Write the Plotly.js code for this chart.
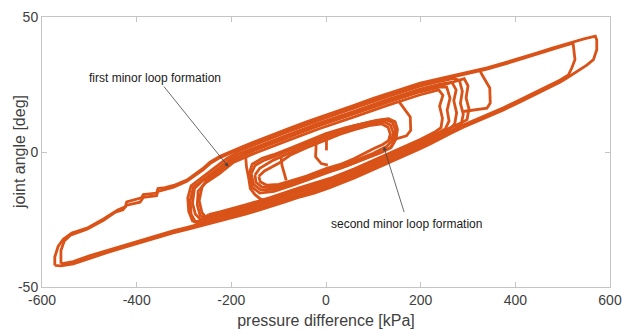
<!DOCTYPE html>
<html>
<head>
<meta charset="utf-8">
<script src="https://cdn.plot.ly/plotly-3.0.1.min.js"></script>
<style>html,body{margin:0;padding:0;background:#fff;}#chart{width:622px;height:334px;}</style>
</head>
<body>
<div id="chart"></div>
<script>
// ---- data: pressure difference [kPa] (x) vs joint angle [deg] (y) ----
// big loop, cycle 1
var bigX1 = [-573,-560,-534,-500,-463,-430,-393,-360,-323,-295,
  -273,-250,-224,-200,-170,-145,-118,-90,-60,-25,
  8,35,60,85,110,135,156,180,199,220,
  241,265,290,315,340,375,410,445,480,495,
  508,530,551,565,572,572,569,
  545,522,500,480,445,410,375,340,315,290,
  265,241,220,199,165,128,100,58,30,-13,
  -41,-83,-111,-154,-182,-224,-245,-260,-294,-322,
  -340,-355,-358,-386,-390,-421,-424,-440,-470,-505,
  -537,-555,-566,-573,-573];
var bigY1 = [-42,-42.2,-41.4,-39.3,-37.3,-35.5,-33.5,-31.8,-30,-28.8,
  -27.8,-26.7,-25.6,-24.4,-23,-21.7,-20.3,-18.7,-16.9,-15.2,
  -13.2,-11.4,-9.6,-7.7,-5.8,-3.8,-2.1,-0.3,1.2,3,
  5,7,9.2,11,12.8,15.6,18.5,21.5,24.5,25.9,
  27.3,29.7,32.2,34.2,37.9,41.5,42.9,
  41.9,40.8,39.7,38.6,36.6,34.7,32.9,31.2,30.2,29.2,
  28.2,27.3,26.4,25.5,23.6,21.5,19.9,17.2,15.5,13,
  11.2,8.4,6.6,3.6,1.6,-1.6,-3.8,-6.1,-10.4,-12.4,
  -13.2,-13.5,-15.2,-15.8,-17,-18.5,-20.3,-21.5,-24.8,-28.2,
  -30,-32.3,-35,-38.9,-42];
// big loop, cycle 2 (turns back at about 522 kPa)
var bigX2 = [-560,-534,-500,-463,-430,-393,-360,-323,-295,-273,
  -250,-224,-200,-170,-145,-118,-90,-60,-25,8,
  35,60,85,110,135,156,180,199,220,241,
  265,290,315,340,375,410,445,480,495,512,
  519,526,522,500,480,445,410,375,340,315,
  290,265,241,220,199,165,128,100,58,30,
  -13,-41,-83,-111,-154,-182,-224,-245,-260,-294,
  -322,-355,-358,-386,-393,-421,-429,-445,-470,-505,
  -540,-553,-560,-560];
var bigY2 = [-41.4,-40.6,-38.5,-36.5,-34.7,-32.7,-31,-29.2,-28,-27,
  -25.9,-24.8,-23.6,-22.2,-20.9,-19.5,-17.9,-16.1,-14.4,-12.4,
  -10.6,-8.8,-6.9,-5,-3,-1.3,0.5,2,3.8,5.8,
  7.8,10,11.8,13.6,16.4,19.3,22.3,25.3,26.7,28.5,
  31,34.2,40.3,39.2,38.1,36.1,34.2,32.4,30.7,29.7,
  28.7,27.7,26.8,25.9,25,23.1,21,19.4,16.7,15,
  12.5,10.7,7.9,6.1,3.1,1.1,-2.1,-4.3,-6.6,-10.8,
  -13,-14.6,-16.2,-16.8,-18.6,-19.7,-21.4,-22.3,-25.3,-28.6,
  -30.8,-33,-36.5,-41.4];
// first-minor-loop cycles (medium loops)
var midX1 = [-268,-224,-170,-118,-60,8,60,110,156,199,
  241,270,286,290,284,288,282,270,241,199,
  128,58,-13,-83,-154,-182,-210,-240,-268,-285,
  -292,-290,-282,-268];
var midY1 = [-26.6,-24.6,-22,-19.3,-15.9,-12.2,-8.6,-4.8,-1.1,2.2,
  6,8.4,10.5,14,18,22.5,26.5,27.3,26.2,24.4,
  20.4,16.1,11.9,7.3,2.5,0.5,-2.5,-6.5,-10.2,-12.5,
  -17,-22,-25.5,-26.6];
var midX2 = [-255,-224,-170,-118,-60,8,60,110,156,199,
  235,252,260,256,262,255,241,199,128,58,
  -13,-83,-154,-200,-230,-262,-278,-282,-276,-265,
  -255];
var midY2 = [-24.3,-23,-20.4,-17.7,-14.3,-10.6,-7,-3.2,0.5,3.8,
  6.9,8.5,11.5,15.5,20,24,24.1,22.3,18.3,14,
  9.8,5.2,0.4,-3.2,-7.3,-10.8,-13.5,-19,-23,-25,
  -24.3];
var midX3 = [-248,-224,-170,-118,-60,8,60,110,156,199,
  232,243,246,240,247,238,199,128,58,-13,
  -83,-154,-195,-225,-255,-270,-272,-266,-256,-248];
var midY3 = [-23.2,-22.2,-19.6,-16.9,-13.5,-9.8,-6.2,-2.4,1.3,4.6,
  7.6,9,12.5,17,21,23,21.2,17.2,12.9,8.7,
  4.1,-0.7,-3.8,-8,-11.5,-14.5,-19.5,-23.5,-24.5,-23.2];
var midX4 = [-262,-224,-170,-118,-60,8,60,110,156,199,
  241,262,272,276,270,275,266,241,199,128,
  58,-13,-83,-154,-182,-205,-235,-262,-280,-287,
  -285,-276,-262];
var midY4 = [-25.4,-23.8,-21.2,-18.5,-15.1,-11.4,-7.8,-4,-0.3,3,
  6.8,8.5,10.5,14.5,19,23,25.8,25.1,23.3,19.3,
  15,10.8,6.2,1.4,-0.6,-3,-7,-10.5,-13,-18,
  -23,-25.8,-25.4];
var midX5 = [-245,-200,-150,-100,-40,20,80,130,180,220,
  260,285,298,302,296,300,292,241,180,100,
  30,-40,-110,-170,-200,-228,-250,-262,-268,-262,
  -252,-245];
var midY5 = [-24.3,-22.2,-19.6,-17,-13.2,-9.3,-5.5,-1.9,1.9,5.2,
  8.8,10.7,12,16,20,24.5,27.2,24.5,21.6,17.1,
  12.7,8.4,3.8,-0.6,-3.4,-7.6,-10,-13,-18,-22.5,
  -24.5,-24.3];
// second-minor-loop cycles (small loops)
var smallX1 = [-158,-150,-130,-111,-76,-41,0,30,60,100,
  125,140,147,145,136,114,100,60,30,0,
  -41,-76,-111,-138,-153,-158];
var smallY1 = [-8,-5,-3,-1.8,0.8,3.4,6.4,8.2,9.8,11.4,
  12,11,8,4.5,1.5,-0.4,-1.4,-4.2,-6.1,-7.6,
  -10.3,-12.2,-13.8,-14,-12,-8];
var smallX2 = [-150,-140,-111,-76,-41,0,30,60,100,122,
  136,142,139,128,100,60,30,0,-41,-76,
  -111,-135,-148,-150];
var smallY2 = [-8.5,-6,-3,-0.2,2.5,5.5,7.4,9.1,10.7,11.2,
  10,7.2,4.2,2,-0.5,-3.4,-5.4,-6.9,-9.6,-11.5,
  -13,-13,-11.2,-8.5];
var smallX3 = [-142,-130,-100,-76,-41,0,30,60,95,118,
  131,136,132,120,100,60,30,0,-41,-76,
  -100,-125,-139,-142];
var smallY3 = [-9,-7,-4.2,-1.2,1.6,4.6,6.6,8.3,9.9,10.4,
  9.2,6.6,4.2,2.8,1.2,-2.4,-4.6,-6.1,-8.9,-10.8,
  -12,-12.3,-11,-9];
var smallX4 = [-162,-156,-135,-111,-76,-40,0,40,80,110,
  132,146,151,148,138,118,90,50,10,-30,
  -70,-110,-140,-156,-162];
var smallY4 = [-8,-4.5,-2.3,-1,1.4,4,6.8,8.9,10.6,11.8,
  12.3,11.2,8.4,4.8,1.8,0,-1.8,-4.7,-7.2,-9.8,
  -12.3,-14.6,-15.2,-13,-8];
// transition paths between branches
var tX1 = [-170,-168,-163,-160,-150,-140,-125];
var tY1 = [-1.2,-5.5,-10,-13.5,-15.8,-17.2,-18.3];
var tX2 = [-95,-93,-88,-84];
var tY2 = [-1.5,-5,-8,-10.5];
var tX3 = [-22,-21,-22,-10,4];
var tY3 = [4.5,1.9,-1.8,-4.3,-4.9];
var tX4 = [1,1];
var tY4 = [4.5,0.6];
var tX5 = [155,165,178,179,170,150,135];
var tY5 = [18.5,16,13,8,6,5,5];
var tX6 = [325,330,346,347,340,310,290];
var tY6 = [30.2,28.5,23.7,18.1,16.2,15.6,15];
var xTicks = [-600,-400,-200,0,200,400,600];
var yTicks = [-50,0,50];
var xTitle = 'pressure difference [kPa]';
var yTitle = 'joint angle [deg]';
var notes = ['first minor loop formation','second minor loop formation'];

var series = [[bigX1,bigY1],[bigX2,bigY2],[midX1,midY1],[midX2,midY2],[midX3,midY3],[midX4,midY4],[midX5,midY5],
  [smallX1,smallY1],[smallX2,smallY2],[smallX3,smallY3],[smallX4,smallY4],
  [tX1,tY1],[tX2,tY2],[tX3,tY3],[tX4,tY4],[tX5,tY5],[tX6,tY6]];
var orange = '#D95319';
var traces = series.map(function(s){
  return {x:s[0], y:s[1], type:'scatter', mode:'lines',
    line:{color:orange, width:2.8}, hoverinfo:'skip', showlegend:false};
});
var font = 'Liberation Sans, Arial, Helvetica, sans-serif';
var axisCol = '#c4c4c4';
var textCol = '#404040';
var layout = {
  width:622, height:334,
  margin:{l:42, r:12, t:17, b:47, pad:0},
  paper_bgcolor:'#fff', plot_bgcolor:'#fff',
  font:{family:font, color:textCol},
  showlegend:false,
  xaxis:{range:[-600,600], tickvals:xTicks, ticktext:xTicks.map(String),
    ticks:'inside', ticklen:5, tickwidth:1, tickcolor:axisCol,
    showline:true, linecolor:axisCol, linewidth:1, mirror:'ticks',
    showgrid:false, zeroline:false, automargin:false,
    tickfont:{size:14, color:textCol, family:font},
    title:{text:xTitle, font:{size:16, color:textCol, family:font}, standoff:8}},
  yaxis:{range:[-50,50], tickvals:yTicks, ticktext:yTicks.map(String),
    ticks:'inside', ticklen:5, tickwidth:1, tickcolor:axisCol,
    showline:true, linecolor:axisCol, linewidth:1, mirror:'ticks',
    showgrid:false, zeroline:false, automargin:false,
    tickfont:{size:14, color:textCol, family:font}},
  annotations:[
    {x:-0.0405, y:0.5, xref:'paper', yref:'paper', text:yTitle, textangle:-90,
      showarrow:false, xanchor:'center', yanchor:'middle',
      font:{size:16, color:textCol, family:font}},
    {x:-361, y:27.5, xref:'x', yref:'y', text:notes[0], showarrow:false,
      font:{size:12, color:'#1a1a1a', family:font}},
    {x:-206, y:-5.5, xref:'x', yref:'y', ax:-345, ay:24.8, axref:'x', ayref:'y',
      text:'', showarrow:true, arrowhead:2, arrowsize:1, arrowwidth:0.8, arrowcolor:'#444'},
    {x:170, y:-26.6, xref:'x', yref:'y', text:notes[1], showarrow:false,
      font:{size:12, color:'#1a1a1a', family:font}},
    {x:122, y:2, xref:'x', yref:'y', ax:166, ay:-22.8, axref:'x', ayref:'y',
      text:'', showarrow:true, arrowhead:2, arrowsize:1, arrowwidth:0.8, arrowcolor:'#444'}
  ]
};
Plotly.newPlot('chart', traces, layout, {staticPlot:true, displayModeBar:false});
</script>
</body>
</html>
